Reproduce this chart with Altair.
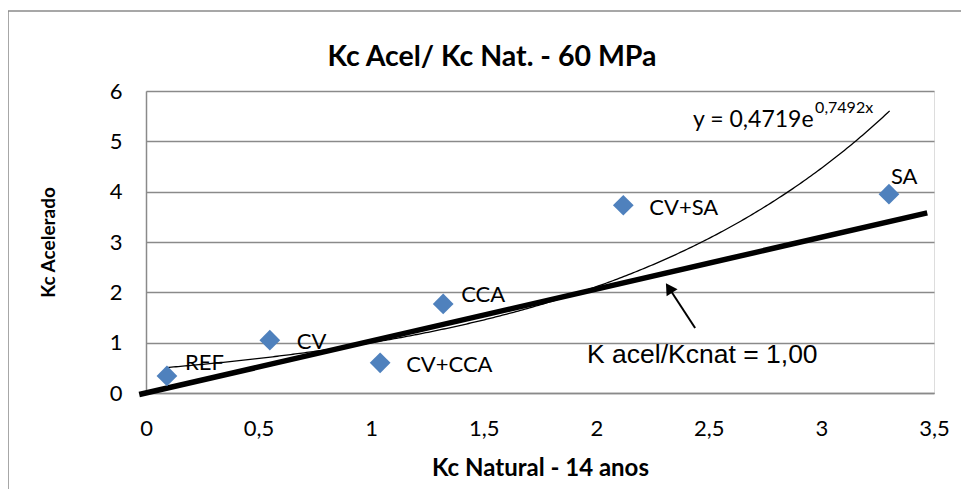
import altair as alt
import pandas as pd

# ---- data ----
labels = ["REF", "CV", "CV+CCA", "CCA", "CV+SA", "SA"]
kc_natural = [0.093, 0.55, 1.04, 1.32, 2.12, 3.30]
kc_acelerado = [0.34, 1.05, 0.60, 1.77, 3.73, 3.95]

# exponential trendline shown on the chart: y = 0,4719 e^(0,7492 x)
trend_a = 0.4719
trend_b = 0.7492
trend_x_start = 0.093
trend_x_stop = 3.30

# thick reference line "K acel/Kcnat = 1,00"
ref_line_x = [-0.03, 3.47]
ref_line_y = [-0.03, 3.58]

# arrow pointing at the reference line (tail, tip)
arrow_x = [2.439, 2.323]
arrow_y = [1.29, 2.086]

x_ticks = [0, 0.5, 1, 1.5, 2, 2.5, 3, 3.5]
y_ticks = [0, 1, 2, 3, 4, 5, 6]

points = pd.DataFrame({"x": kc_natural, "y": kc_acelerado, "label": labels})
ref_df = pd.DataFrame({"x": ref_line_x, "y": ref_line_y})
arrow_df = pd.DataFrame({"x": arrow_x, "y": arrow_y})

GRID = "#8a8a8a"
BLUE = "#4F81BD"
FONT = "Lato"

xs = alt.Scale(domain=[0, 3.5], nice=False, zero=False)
ys = alt.Scale(domain=[0, 6], nice=False)

x_axis = alt.Axis(values=x_ticks, grid=False, ticks=False, domain=True,
                  domainColor=GRID, domainWidth=1.5,
                  labelExpr="replace(toString(datum.value), '.', ',')",
                  labelFont=FONT, labelFontSize=22, labelColor="black",
                  labelPadding=25, labelFlush=False,
                  title="Kc Natural - 14 anos", titleFont=FONT, titleFontSize=24,
                  titleFontWeight="bold", titleColor="black", titlePadding=17)
y_axis = alt.Axis(values=y_ticks, grid=True, gridColor=GRID, gridWidth=1.5,
                  ticks=False, domain=True, domainColor=GRID, domainWidth=1.5,
                  labelFont=FONT, labelFontSize=22, labelColor="black",
                  labelPadding=24,
                  title="Kc Acelerado", titleFont=FONT, titleFontSize=19,
                  titleFontWeight="bold", titleColor="black", titlePadding=51)

X = alt.X("x:Q", scale=xs, axis=x_axis)
Y = alt.Y("y:Q", scale=ys, axis=y_axis)

base_pts = alt.Chart(points)
one = pd.DataFrame({"k": [0]})

frame = alt.Chart(one).mark_rect(
    fill=None, stroke="#8a8a8a", strokeWidth=1.5, clip=False
).encode(x=alt.value(-138), x2=alt.value(900), y=alt.value(-80), y2=alt.value(520))

title = alt.Chart(one).mark_text(
    text="Kc Acel/ Kc Nat. - 60 MPa", font=FONT, fontSize=28.5, fontWeight="bold",
    color="black", align="center", baseline="middle", clip=False
).encode(x=alt.value(346), y=alt.value(-34))

ref_line = alt.Chart(ref_df).mark_line(color="black", strokeWidth=5.5, clip=False).encode(x=X, y=Y)

trend = alt.Chart(alt.sequence(trend_x_start, trend_x_stop + 0.005, 0.01, as_="x")).transform_calculate(
    y=f"{trend_a} * exp({trend_b} * datum.x)"
).mark_line(color="black", strokeWidth=1.3).encode(x=X, y=Y)

pts = base_pts.mark_point(shape="diamond", filled=True, size=430, color=BLUE, opacity=1).encode(x=X, y=Y)

# label offsets (pixels) as Excel's manually placed data labels
offsets = {"REF": (18, -13), "CV": (27, 2), "CV+CCA": (26, 2),
           "CCA": (18, -9), "CV+SA": (26, 3), "SA": (2, -17)}
label_layers = []
for lab in labels:
    dx, dy = offsets[lab]
    label_layers.append(
        base_pts.transform_filter(alt.datum.label == lab).mark_text(
            align="left", baseline="middle", dx=dx, dy=dy, font=FONT, fontSize=22, color="black"
        ).encode(x=X, y=Y, text="label:N")
    )

arrow_line = alt.Chart(arrow_df).mark_line(color="black", strokeWidth=2).encode(x=X, y=Y)
arrow_head = alt.Chart(arrow_df.iloc[[1]]).mark_point(
    shape="triangle-up", filled=True, color="black", size=170, angle=327, opacity=1
).encode(x=X, y=Y)

eq_main = alt.Chart(pd.DataFrame({"x": [2.43], "y": [5.42], "t": ["y = 0,4719e"]})).mark_text(
    align="left", baseline="middle", font=FONT, fontSize=23, color="black"
).encode(x=X, y=Y, text="t:N")
eq_sup = alt.Chart(pd.DataFrame({"x": [2.972], "y": [5.66], "t": ["0,7492x"]})).mark_text(
    align="left", baseline="middle", font=FONT, fontSize=16, color="black"
).encode(x=X, y=Y, text="t:N")
k_text = alt.Chart(pd.DataFrame({"x": [1.959], "y": [0.755], "t": ["K acel/Kcnat = 1,00"]})).mark_text(
    align="left", baseline="middle", font="Liberation Sans", fontSize=26.5, color="black"
).encode(x=X, y=Y, text="t:N")

chart = alt.layer(
    frame, title, trend, ref_line, pts, *label_layers, arrow_line, arrow_head, eq_main, eq_sup, k_text
).properties(
    width=788, height=302,
    autosize=alt.AutoSizeParams(type="none"),
    padding={"left": 138, "top": 83, "right": 27, "bottom": 96},
).configure_view(stroke=None).configure(background="white")

chart.save("out.html", embed_options={"renderer": "svg", "actions": False})
